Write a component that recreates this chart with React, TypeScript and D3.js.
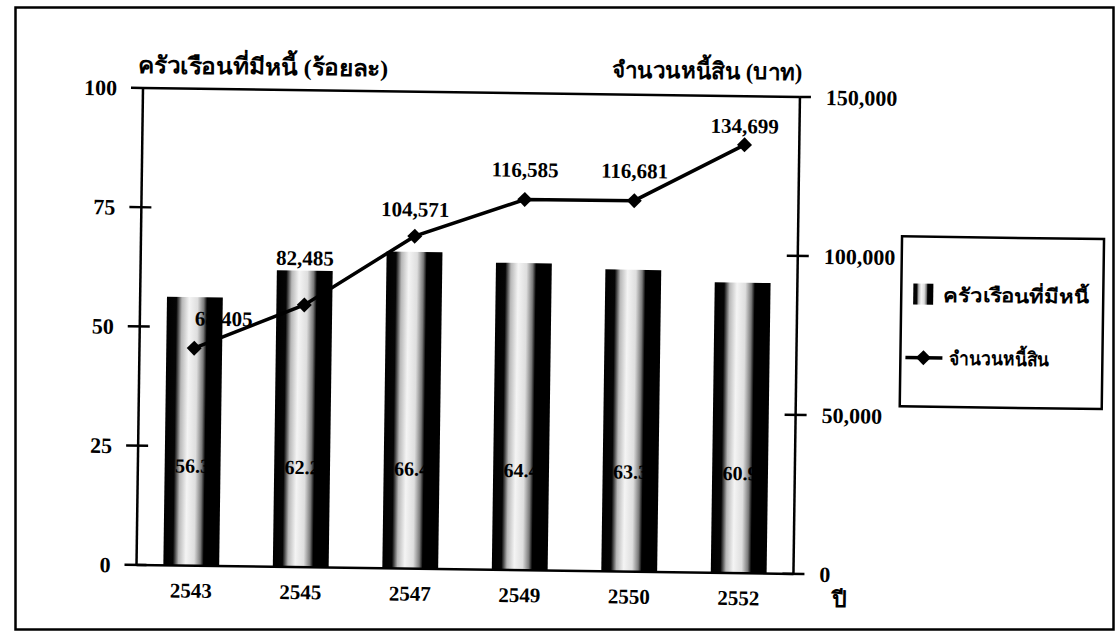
import React from "react";
import * as d3 from "d3";

// Survey years (Buddhist Era)
const years = ["2543", "2545", "2547", "2549", "2550", "2552"];
// Share of households in debt (percent)
const debtShare = [56.3, 62.2, 66.4, 64.4, 63.3, 60.9];
// Average debt per household (baht)
const debtAmount = [68405, 82485, 104571, 116585, 116681, 134699];
// Axis tick values
const leftTicks = [0, 25, 50, 75, 100];
const rightTicks = [0, 50000, 100000, 150000];

const W = 1120;
const H = 639;
const plot = { left: 143, right: 800, top: 88, bottom: 565 };
const tilt = 0.78;

// hand-placed nudges for the amount labels (dx, dy from the marker)
const labelNudge: [number, number][] = [
  [29, -30],
  [0, -47],
  [0, -27],
  [0, -30],
  [0, -30],
  [0, -19],
];

const numFont = "'Liberation Serif', 'Times New Roman', serif";
const thaiFont = "'Liberation Serif', serif";

export default function App() {
  const x = d3
    .scaleBand<string>()
    .domain(years)
    .range([plot.left, plot.right])
    .paddingInner(0.49)
    .paddingOuter(0.245);
  const yL = d3.scaleLinear().domain([0, 100]).range([plot.bottom, plot.top]);
  const yR = d3.scaleLinear().domain([0, 150000]).range([plot.bottom, plot.top]);
  const fmt = d3.format(",");
  const bw = x.bandwidth();
  const cx = (y: string) => (x(y) as number) + bw / 2;

  const linePath = d3
    .line<number>()
    .x((_, i) => cx(years[i]))
    .y((d) => yR(d))(debtAmount) as string;

  const diamond = (px: number, py: number, r = 7.5) =>
    `M${px},${py - r}L${px + r},${py}L${px},${py + r}L${px - r},${py}Z`;

  const lg = { x: 904, y: 226, w: 202, h: 170 };

  return (
    <svg
      width={W}
      height={H}
      style={{ position: "absolute", left: 0, top: 0, background: "#fff" }}
    >
      <defs>
        <linearGradient id="barShade" x1="0" x2="1" y1="0" y2="0">
          <stop offset="0%" stopColor="#000" />
          <stop offset="17%" stopColor="#050505" />
          <stop offset="27%" stopColor="#b8b8b8" />
          <stop offset="40%" stopColor="#f4f4f4" />
          <stop offset="55%" stopColor="#dedede" />
          <stop offset="66%" stopColor="#7a7a7a" />
          <stop offset="72%" stopColor="#000" />
          <stop offset="100%" stopColor="#000" />
        </linearGradient>
      </defs>
      <rect x={15.5} y={7.5} width={1098} height={622} fill="none" stroke="#000" strokeWidth={2.5} />

      <g transform={`rotate(${tilt}, ${plot.left}, ${plot.top})`}>
        {/* axis titles */}
        <text
          x={138}
          y={73}
          fontFamily={thaiFont}
          fontWeight="bold"
          fontSize={23}
          textLength={250}
          lengthAdjust="spacingAndGlyphs"
          fill="#000"
        >
          ครัวเรือนที่มีหนี้ (ร้อยละ)
        </text>
        <text
          x={612}
          y={71}
          fontFamily={thaiFont}
          fontWeight="bold"
          fontSize={23}
          textLength={190}
          lengthAdjust="spacingAndGlyphs"
          fill="#000"
        >
          จำนวนหนี้สิน (บาท)
        </text>

        {/* bars */}
        {debtShare.map((v, i) => (
          <rect
            key={years[i]}
            x={x(years[i])}
            y={yL(v)}
            width={bw}
            height={plot.bottom - yL(v)}
            fill="url(#barShade)"
          />
        ))}
        {debtShare.map((v, i) => (
          <text
            key={"bl" + years[i]}
            x={cx(years[i])}
            y={472}
            textAnchor="middle"
            fontFamily={numFont}
            fontWeight="bold"
            fontSize={20}
            fill="#000"
          >
            {v.toFixed(1)}
          </text>
        ))}

        {/* plot frame and ticks */}
        <g stroke="#000" strokeWidth={2.5}>
          <line x1={plot.left} x2={plot.right} y1={plot.top} y2={plot.top} />
          <line x1={plot.left} x2={plot.right} y1={plot.bottom} y2={plot.bottom} />
          <line x1={plot.left} x2={plot.left} y1={plot.top} y2={plot.bottom} />
          <line x1={plot.right} x2={plot.right} y1={plot.top} y2={plot.bottom} />
          {leftTicks.map((t) => (
            <line key={"lt" + t} x1={plot.left - 12} x2={plot.left + (t === 100 ? 0 : 10)} y1={yL(t)} y2={yL(t)} />
          ))}
          {rightTicks.map((t) => (
            <line key={"rt" + t} x1={plot.right - (t === 150000 ? 0 : 11)} x2={plot.right + 11} y1={yR(t)} y2={yR(t)} />
          ))}
        </g>

        {/* left axis labels */}
        {leftTicks.map((t) => (
          <text
            key={"ll" + t}
            x={117}
            y={yL(t)}
            dy="0.35em"
            textAnchor="end"
            fontFamily={numFont}
            fontWeight="bold"
            fontSize={22}
          >
            {t}
          </text>
        ))}
        {/* right axis labels */}
        {rightTicks.map((t) => (
          <text
            key={"rl" + t}
            x={826}
            y={yR(t)}
            dy="0.35em"
            fontFamily={numFont}
            fontWeight="bold"
            fontSize={22}
          >
            {fmt(t)}
          </text>
        ))}

        {/* category labels */}
        {years.map((y) => (
          <text
            key={"x" + y}
            x={cx(y)}
            y={597}
            textAnchor="middle"
            fontFamily={numFont}
            fontWeight="bold"
            fontSize={21}
          >
            {y}
          </text>
        ))}
        <text x={847} y={598} textAnchor="middle" fontFamily={thaiFont} fontWeight="bold" fontSize={23}>
          ปี
        </text>

        {/* debt amount line */}
        <path d={linePath} fill="none" stroke="#000" strokeWidth={3.5} />
        {debtAmount.map((v, i) => (
          <path key={"m" + i} d={diamond(cx(years[i]), yR(v))} fill="#000" />
        ))}
        {debtAmount.map((v, i) => (
          <text
            key={"vl" + i}
            x={cx(years[i]) + labelNudge[i][0]}
            y={yR(v) + labelNudge[i][1]}
            dy="0.35em"
            textAnchor="middle"
            fontFamily={numFont}
            fontWeight="bold"
            fontSize={21}
          >
            {fmt(v)}
          </text>
        ))}

        {/* legend */}
        <g transform={`translate(${lg.x}, ${lg.y})`}>
          <rect x={0} y={0} width={lg.w} height={lg.h} fill="#fff" stroke="#000" strokeWidth={2.5} />
          <rect x={12} y={47} width={20} height={21} fill="url(#barShade)" />
          <text
            x={42}
            y={58}
            dy="0.35em"
            fontFamily={thaiFont}
            fontWeight="bold"
            fontSize={19}
            textLength={146}
            lengthAdjust="spacingAndGlyphs"
          >
            ครัวเรือนที่มีหนี้
          </text>
          <line x1={5} x2={42} y1={121} y2={121} stroke="#000" strokeWidth={3.5} />
          <path d={diamond(23, 121)} fill="#000" />
          <text
            x={49}
            y={121}
            dy="0.35em"
            fontFamily={thaiFont}
            fontWeight="bold"
            fontSize={19}
            textLength={100}
            lengthAdjust="spacingAndGlyphs"
          >
            จำนวนหนี้สิน
          </text>
        </g>
      </g>
    </svg>
  );
}
